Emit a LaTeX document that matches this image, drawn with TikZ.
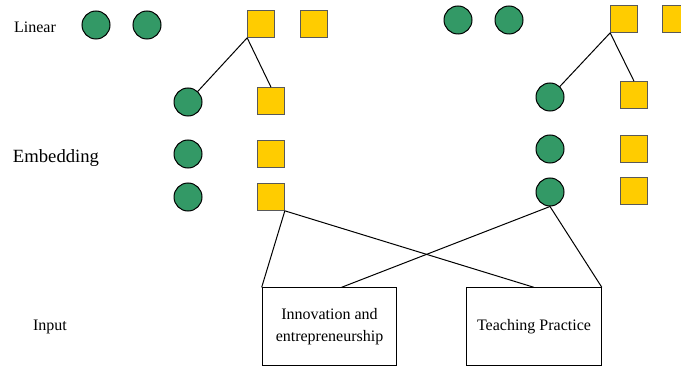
\documentclass[tikz,border=0pt]{standalone}
\usepackage{fontspec}
\setmainfont{Liberation Serif}
\usetikzlibrary{calc}
\definecolor{nodegreen}{HTML}{339966}
\definecolor{nodeyellow}{HTML}{FFCC00}

\begin{document}
\begin{tikzpicture}[x=0.75pt, y=-0.75pt,
  ball/.style={circle, draw=black, fill=nodegreen, line width=0.75pt, minimum size=21pt, inner sep=0pt},
  tile/.style={rectangle, draw=black!65, fill=nodeyellow, line width=0.75pt, minimum size=20pt, inner sep=0pt},
  inbox/.style={rectangle, draw=black, line width=0.75pt, minimum width=101pt, minimum height=58pt, align=center, font=\fontsize{12}{16}\selectfont},
  tag/.style={font=\fontsize{12}{14}\selectfont},
  link/.style={draw=black, line width=0.75pt},
]
\useasboundingbox (0,0) rectangle (681,367);

% row labels
\node[tag] (lblin) at (35,27) {Linear};
\node[font=\fontsize{14}{16}\selectfont] (lblemb) at (56,158) {Embedding};
\node[tag] (lblinp) at (50,327) {Input};

% linear layer (left and right halves)
\foreach \n/\x/\y in {la/96/25, lb/147/25, ra/458/20, rb/509/20}
  \node[ball] (\n) at (\x,\y) {};
\foreach \n/\x/\y in {lc/261/24, ld/314/24, rc/624/19, rd/676/19}
  \node[tile] (\n) at (\x,\y) {};

% embedding layer columns
\foreach \n/\x/\y in {le1/188/102, le2/188/154, le3/188/197, re1/550/97, re2/550/149, re3/550/192}
  \node[ball] (\n) at (\x,\y) {};
\foreach \n/\x/\y in {lt1/271/101, lt2/271/154, lt3/271/197, rt1/634/95, rt2/634/149, rt3/634/191}
  \node[tile] (\n) at (\x,\y) {};

% input boxes
\node[inbox] (innov) at (329.5,326.5) {Innovation and\\entrepreneurship};
\node[inbox] (teach) at (534,326.5) {Teaching Practice};

% connections
\draw[link] (lc.south west) -- (le1);
\draw[link] (lc.south west) -- (lt1.north);
\draw[link] (rc.south west) -- (re1);
\draw[link] (rc.south west) -- (rt1.north);
\draw[link] (lt3.south east) -- (innov.north west);
\draw[link] (lt3.south east) -- (teach.north);
\draw[link] (re3.south) -- ($(innov.north)+(12,0)$);
\draw[link] (re3.south) -- (teach.north east);
\end{tikzpicture}
\end{document}
